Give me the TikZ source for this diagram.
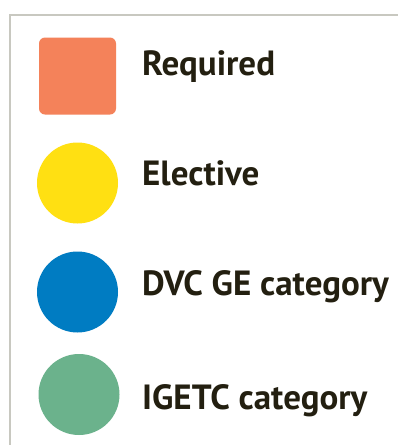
\documentclass[tikz,border=0pt]{standalone}
\usepackage{fontspec}
\setmainfont{PT Sans}
\definecolor{frame}{RGB}{200,200,192}
\definecolor{req}{RGB}{244,130,90}
\definecolor{elec}{RGB}{255,224,18}
\definecolor{dvc}{RGB}{0,124,194}
\definecolor{igetc}{RGB}{107,178,140}
\definecolor{txt}{RGB}{35,31,16}
\begin{document}
\begin{tikzpicture}[x=1pt,y=-1pt,
  lab/.style={anchor=base west,inner sep=0pt,text=txt,font=\fontsize{35}{40}\selectfont\bfseries},
  dot/.style={circle,minimum size=81pt,inner sep=0pt}]
\useasboundingbox (0,0) rectangle (398,445);
\fill[white] (0,0) rectangle (398,445);
\draw[frame,line width=2pt] (9.5,446) -- (9.5,14.5) -- (399,14.5);
\node[fill=req,rounded corners=6pt,minimum width=77pt,minimum height=77pt,inner sep=0pt] (sq) at (77.5,76) {};
\node[dot,fill=elec] (c1) at (77.5,183) {};
\node[dot,fill=dvc] (c2) at (77.5,292) {};
\node[dot,fill=igetc] (c3) at (79,394.5) {};
\node[lab] (t1) at (142,75) {Required};
\node[lab] (t2) at (142,185) {Elective};
\node[lab] (t3) at (142,295) {DVC GE category};
\node[lab] (t4) at (142,409) {IGETC category};
\end{tikzpicture}
\end{document}
